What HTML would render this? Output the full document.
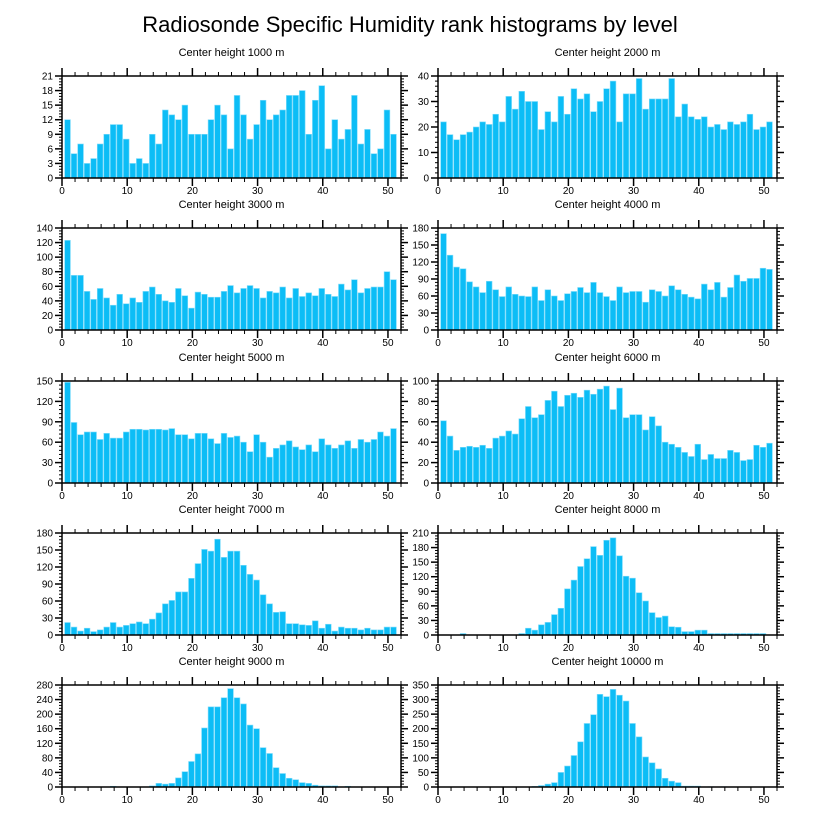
<!DOCTYPE html>
<html><head><meta charset="utf-8">
<style>
html,body{margin:0;padding:0;background:#fff;}
svg{display:block;font-family:"Liberation Sans",Arial,sans-serif;}
</style></head>
<body>
<svg id="chart" width="816" height="824" viewBox="0 0 816 824">
<text x="410" y="32" text-anchor="middle" font-size="22" fill="#000">Radiosonde Specific Humidity rank histograms by level</text>
</svg>
<script>
const panelTitles = ["Center height 1000 m","Center height 2000 m","Center height 3000 m","Center height 4000 m","Center height 5000 m","Center height 6000 m","Center height 7000 m","Center height 8000 m","Center height 9000 m","Center height 10000 m"];
const ranks = Array.from({length:51},(_,i)=>i+1);
const xTicks = [0,10,20,30,40,50];
const yMax = [21,40,140,180,150,100,180,210,280,350];
const yStep = [3,10,20,30,30,20,30,30,40,50];
const h1000 = [12,5,7,3,4,7,9,11,11,8,3,4,3,9,7,14,13,12,15,9,9,9,12,15,13,6,17,13,8,11,16,12,13,14,17,17,18,9,16,19,6,12,8,10,17,7,10,5,6,14,9];
const h2000 = [22,17,15,17,18,20,22,21,25,22,32,27,34,30,30,19,26,22,32,25,35,31,33,26,30,35,38,22,33,33,39,27,31,31,31,39,24,29,24,23,24,20,21,19,22,21,22,25,19,20,22];
const h3000 = [123,75,75,53,42,57,44,34,49,36,44,38,53,59,49,40,38,57,47,30,52,49,45,45,53,61,51,57,61,57,44,53,51,59,44,57,46,51,47,57,49,46,63,55,69,51,57,59,59,80,69];
const h4000 = [170,132,111,108,85,76,66,86,71,59,76,63,60,59,76,52,71,60,52,64,68,75,66,84,66,59,52,76,66,68,68,49,71,68,60,78,71,63,58,55,81,71,84,58,75,97,86,91,91,109,107];
const h5000 = [148,89,71,75,75,64,73,66,66,75,79,79,78,79,79,78,80,71,71,65,73,73,65,58,73,67,69,60,46,71,60,38,51,56,62,53,49,56,46,65,56,51,56,62,51,64,60,64,75,69,80];
const h6000 = [61,46,32,35,36,35,37,34,44,46,51,48,63,75,64,67,81,90,75,86,88,84,91,87,92,95,72,93,64,67,67,52,65,56,40,38,35,30,26,38,23,28,24,24,32,30,22,23,37,35,39];
const h7000 = [22,14,7,12,6,9,14,22,14,17,20,23,20,28,39,55,61,76,76,100,126,151,148,169,137,148,148,123,107,97,71,55,40,41,20,20,18,17,25,12,19,7,14,12,12,9,12,9,9,14,14];
const h8000 = [0,0,0,3,0,0,0,0,0,0,0,0,3,14,10,21,26,42,55,95,113,141,157,182,164,195,200,163,121,117,87,70,46,36,39,17,16,7,7,10,10,3,3,3,3,3,3,3,3,3,0];
const h9000 = [0,0,0,0,0,0,0,2,0,0,0,0,0,3,10,8,10,25,42,70,91,162,220,220,245,270,245,228,170,160,108,92,53,37,24,20,12,10,5,3,3,3,0,2,0,0,0,0,0,0,0];
const h10000 = [0,0,0,0,0,0,0,0,0,0,0,0,0,0,2,5,10,15,50,72,108,155,218,248,318,310,335,315,295,218,172,103,83,62,30,20,15,3,3,3,0,1,0,1,0,0,0,0,0,0,0];
const series = [h1000,h2000,h3000,h4000,h5000,h6000,h7000,h8000,h9000,h10000];

const NS="http://www.w3.org/2000/svg";
const svg=document.getElementById('chart');
function mk(tag,attrs,parent){const e=document.createElementNS(NS,tag);for(const k in attrs)e.setAttribute(k,attrs[k]);(parent||svg).appendChild(e);return e;}
const colL=[62,438], W=339, H=102, tops=[76,228,381,533,685], XMAX=52;

series.forEach((vals,p)=>{
  const L=colL[p%2], T=tops[Math.floor(p/2)], B=T+H;
  const g=mk('g',{});
  
  
  const xs=v=>L+v*W/XMAX;
  const ys=v=>B-v*H/yMax[p];
  const t=mk('text',{x:L+W/2,y:T-20,'text-anchor':'middle','font-size':'11'},g);
  t.textContent=panelTitles[p];
  
  
  const bw=6.5*0.88;
  vals.forEach((v,i)=>{
    if(v<=0)return;
    const cx=xs(ranks[i]-0.15);
    const r=mk('rect',{x:cx-bw/2,y:ys(v),width:bw,height:B-ys(v),fill:'#0cbdf6',stroke:'#7fdcfb','stroke-width':'0.6'},g);
    
    
  });
  const fr=mk('rect',{x:L,y:T,width:W,height:H,fill:'none',stroke:'#000','stroke-width':'1.5'},g);
  
  
  // x ticks
  for(let v=0;v<=XMAX;v+=2){
    const major=v%10===0, len=major?8:4, x=xs(v);
    mk('line',{x1:x,y1:B,x2:x,y2:B+len,stroke:'#000','stroke-width':major?1.5:1},g);
    mk('line',{x1:x,y1:T,x2:x,y2:T-len,stroke:'#000','stroke-width':major?1.5:1},g);
  }
  xTicks.forEach(v=>{
    const tx=mk('text',{x:xs(v),y:B+16,'text-anchor':'middle','font-size':'10'},g);
    tx.textContent=v;
    
    
  });
  // y ticks
  const minor=yStep[p]/5;
  for(let k=0;k*minor<=yMax[p]+1e-9;k++){
    const v=k*minor, major=k%5===0, len=major?7:3, y=ys(v);
    mk('line',{x1:L,y1:y,x2:L-len,y2:y,stroke:'#000','stroke-width':major?1.5:1},g);
    mk('line',{x1:L+W,y1:y,x2:L+W+len,y2:y,stroke:'#000','stroke-width':major?1.5:1},g);
  }
  for(let v=0;v<=yMax[p]+1e-9;v+=yStep[p]){
    const ty=mk('text',{x:L-9,y:ys(v)+3.5,'text-anchor':'end','font-size':'10'},g);
    ty.textContent=v;
    
    
  }
});
</script>
</body></html>
